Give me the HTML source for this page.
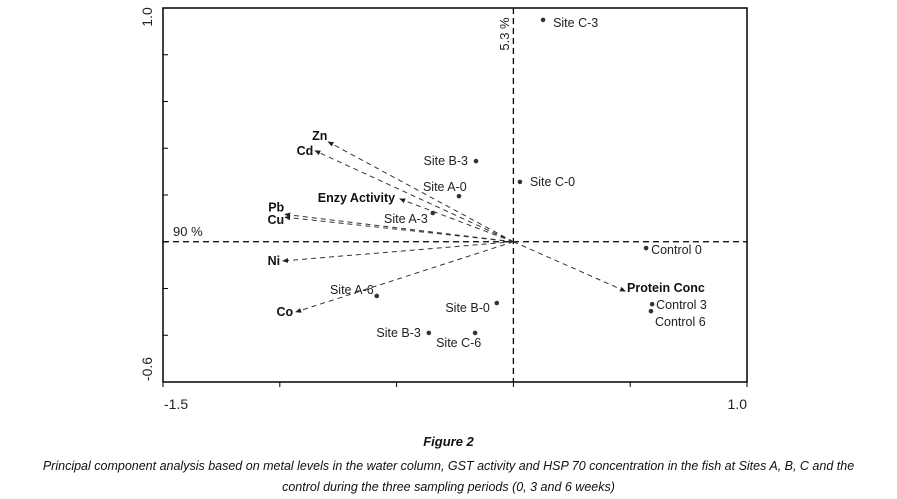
<!DOCTYPE html>
<html><head><meta charset="utf-8"><style>
html,body{margin:0;padding:0;background:#fff;}
svg{display:block;font-family:"Liberation Sans",sans-serif;}
.cap{position:absolute;left:0;width:897px;text-align:center;font-family:"Liberation Sans",sans-serif;font-style:italic;font-size:12.5px;color:#111;}
</style></head><body>
<div style="position:relative;width:897px;height:499px;">
<svg id="chart" width="897" height="420" viewBox="0 0 897 420"></svg>
<div class="cap" style="top:434px;font-weight:bold;font-size:13px;">Figure 2</div>
<div class="cap" style="top:456px;line-height:21px;">Principal component analysis based on metal levels in the water column, GST activity and HSP 70 concentration in the fish at Sites A, B, C and the<br>control during the three sampling periods (0, 3 and 6 weeks)</div>
</div>
<script>
const pointNames = ["Site C-3","Site B-3","Site C-0","Site A-0","Site A-3","Control 0","Control 3","Control 6","Site A-6","Site B-0","Site B-3","Site C-6"];
const pointX = [0.127,-0.160,0.028,-0.233,-0.345,0.568,0.594,0.589,-0.585,-0.071,-0.362,-0.164];
const pointY = [0.949,0.345,0.256,0.195,0.123,-0.027,-0.267,-0.297,-0.232,-0.262,-0.390,-0.390];
const vectorNames = ["Zn","Cd","Enzy Activity","Pb","Cu","Ni","Co","Protein Conc"];
const vectorX = [-0.792,-0.848,-0.485,-0.977,-0.977,-0.986,-0.930,0.478];
const vectorY = [0.427,0.389,0.183,0.117,0.105,-0.082,-0.300,-0.211];
const xTicks = [-1.5,-1.0,-0.5,0,0.5,1.0];
const yTicks = [-0.6,-0.4,-0.2,0,0.2,0.4,0.6,0.8,1.0];

// label placement (styling only)
const pLab = [[10,7,"start"],[-8,4,"end"],[10,4,"start"],[-36,-5,"start"],[-5,10,"end"],[5,6,"start"],[4,5,"start"],[4,15,"start"],[-3,-2,"end"],[-7,9,"end"],[-8,4,"end"],[-39,14,"start"]];
const vLab = [[-1,-2,"end"],[-2,4,"end"],[-5,3,"end"],[-1,-3,"end"],[-1,7,"end"],[-3,4,"end"],[-3,4,"end"],[2,1,"start"]];

const L=163,R=747,T=8,B=382;
const xmin=-1.5,xmax=1.0,ymin=-0.6,ymax=1.0;
const sx=v=>L+(v-xmin)/(xmax-xmin)*(R-L);
const sy=v=>B-(v-ymin)/(ymax-ymin)*(B-T);
const svg=document.getElementById('chart');
const NS="http://www.w3.org/2000/svg";
function mk(tag,attrs,parent){const e=document.createElementNS(NS,tag);for(const k in attrs)e.setAttribute(k,attrs[k]);(parent||svg).appendChild(e);return e;}

const defs=mk('defs',{});
const mkr=mk('marker',{id:'ah',markerWidth:6,markerHeight:6,refX:5,refY:3,orient:'auto',markerUnits:'userSpaceOnUse'},defs);
mk('path',{d:'M0,0.5 L6,3 L0,5.5 Z',fill:'#222'},mkr);

const frame=mk('rect',{x:L,y:T,width:R-L,height:B-T,fill:'none',stroke:'#000','stroke-width':1.5});



xTicks.forEach(t=>{const l=mk('line',{x1:sx(t),x2:sx(t),y1:B,y2:B+5,stroke:'#000','stroke-width':1});

});
yTicks.forEach(t=>{const l=mk('line',{x1:L,x2:L+5,y1:sy(t),y2:sy(t),stroke:'#000','stroke-width':1});

});

let t;
t=mk('text',{x:164,y:409,'font-size':14,fill:'#222'});t.textContent="-1.5";


t=mk('text',{x:747,y:409,'font-size':14,fill:'#222','text-anchor':'end'});t.textContent="1.0";


t=mk('text',{x:0,y:0,'font-size':14,fill:'#222','text-anchor':'middle',transform:'translate(152,17) rotate(-90)'});t.textContent="1.0";


t=mk('text',{x:0,y:0,'font-size':14,fill:'#222','text-anchor':'middle',transform:'translate(152,369) rotate(-90)'});t.textContent="-0.6";



const hx=mk('line',{x1:L,x2:R,y1:sy(0),y2:sy(0),stroke:'#000','stroke-width':1.3,'stroke-dasharray':'6,4'});


const vy=mk('line',{x1:sx(0),x2:sx(0),y1:T,y2:B,stroke:'#000','stroke-width':1.3,'stroke-dasharray':'6,4'});


t=mk('text',{x:173,y:236,'font-size':13,fill:'#222'});t.textContent="90 %";


t=mk('text',{x:0,y:0,'font-size':13,fill:'#222','text-anchor':'middle',transform:'translate(509,34) rotate(-90)'});t.textContent="5.3 %";



vectorNames.forEach((n,i)=>{
  const x2=sx(vectorX[i]),y2=sy(vectorY[i]);
  const a=mk('line',{x1:sx(0),y1:sy(0),x2:x2,y2:y2,stroke:'#333','stroke-width':1,'stroke-dasharray':'5,4','marker-end':'url(#ah)'});
  
  
  const lb=mk('text',{x:x2+vLab[i][0],y:y2+vLab[i][1],'font-size':12.5,'font-weight':'bold',fill:'#111','text-anchor':vLab[i][2]});
  lb.textContent=n;
  
  
});

pointNames.forEach((n,i)=>{
  const x=sx(pointX[i]),y=sy(pointY[i]);
  const c=mk('circle',{cx:x,cy:y,r:2.3,fill:'#333'});
  
  
  const lb=mk('text',{x:x+pLab[i][0],y:y+pLab[i][1],'font-size':12.5,fill:'#222','text-anchor':pLab[i][2]});
  lb.textContent=n;
  
  
});
</script>
</body></html>
